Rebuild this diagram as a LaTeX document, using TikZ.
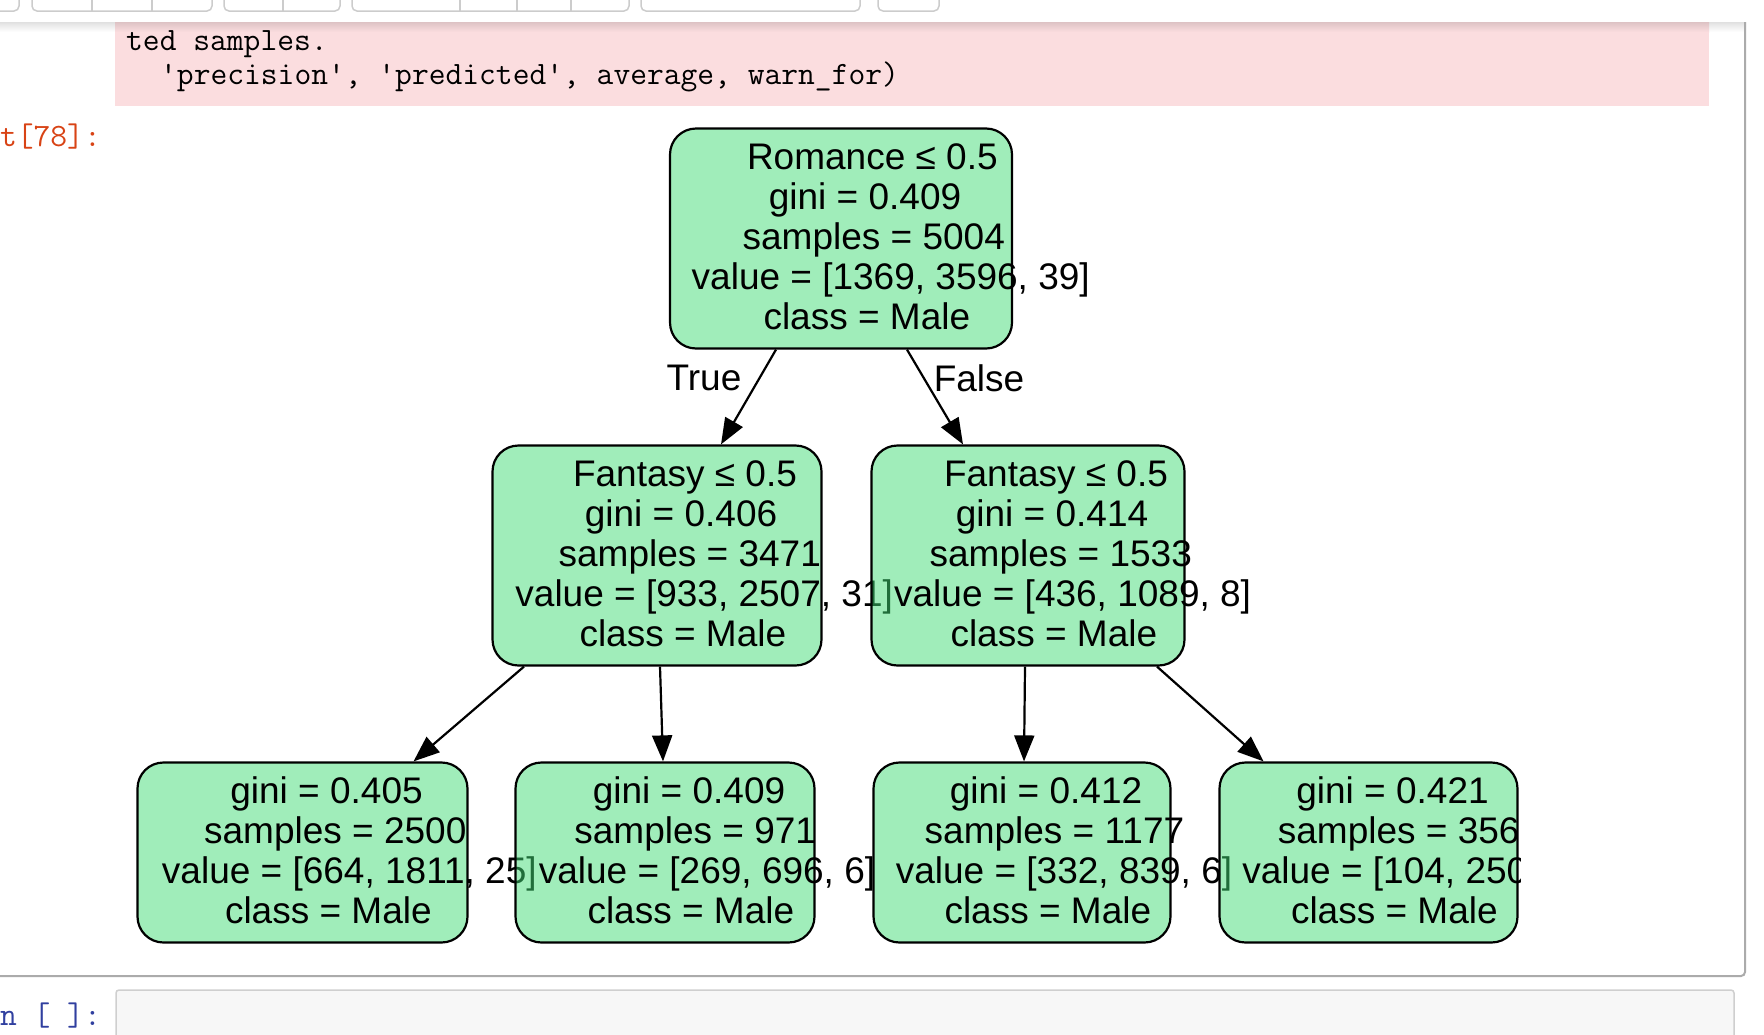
\documentclass[tikz,border=0pt]{standalone}
\usepackage{fontspec}
\newfontfamily\treefont{Liberation Sans}
\usepackage{tikz}
\usetikzlibrary{arrows.meta}
\definecolor{treegreen}{HTML}{41DB75}
\definecolor{errpink}{HTML}{FBDDDF}
\definecolor{outred}{HTML}{D84315}
\definecolor{inblue}{HTML}{303F9F}
\definecolor{cellgray}{HTML}{F7F7F7}
\definecolor{cellborder}{HTML}{CFCFCF}
\definecolor{framegray}{HTML}{ABABAB}
\newcommand{\sq}{\textquotesingle}
% graphviz-like line placement: every line starts a quarter of its width early
\newsavebox{\gvbox}
\newcommand{\gvline}[1]{\sbox{\gvbox}{#1}\hspace*{0.25\wd\gvbox}\usebox{\gvbox}}
\tikzset{
	treebox/.style={draw=black, line width=2.2pt, fill=treegreen, fill opacity=0.5,
			rounded corners=26pt, inner sep=0pt, minimum height=220pt}
}
\tikzset{
	leafbox/.style={treebox, minimum height=180pt}
}
\tikzset{
	treetext/.style={font=\treefont\fontsize{37}{40}\selectfont, align=center, inner sep=0pt}
}
\tikzset{
	treeedge/.style={line width=2.2pt, -{Triangle[length=26pt, width=20pt]}}
}
\tikzset{
	monotext/.style={font=\ttfamily\fontsize{32.6}{33}\selectfont, inner sep=0pt}
}
\tikzset{
	toolbtn/.style={draw=gray!40, line width=1.5pt, rounded corners=5pt}
}

\begin{document}
\begin{tikzpicture}[x=1pt, y=-1pt]

			\useasboundingbox (0,0) rectangle (1764,1034);
			\clip (0,0) rectangle (1764,1034);

			% notebook toolbar
			\begin{scope}
				\draw[toolbtn] (-20,-10) rectangle (19,11);
				\draw[toolbtn] (32,-10) rectangle (212,11);
				\draw[toolbtn] (92,-10) -- (92,11);
				\draw[toolbtn] (152,-10) -- (152,11);
				\draw[toolbtn] (224,-10) rectangle (340,11);
				\draw[toolbtn] (283,-10) -- (283,11);
				\draw[toolbtn] (352,-10) rectangle (629,11);
				\draw[toolbtn] (460,-10) -- (460,11);
				\draw[toolbtn] (517,-10) -- (517,11);
				\draw[toolbtn] (571,-10) -- (571,11);
				\draw[toolbtn] (641,-10) rectangle (860,11);
				\draw[toolbtn] (878,-10) rectangle (939,11);
			\end{scope}

			% warning output
			\begin{scope}
				\shade[top color=black!12, bottom color=white] (0,22) rectangle (1746,32);
				\fill[errpink] (115,22) rectangle (1709,106);
				\shade[top color=errpink!88!black, bottom color=errpink] (115,22) rectangle (1709,32);

				\node[monotext, anchor=west] (errline1) at (126,44) {ted samples.};
				\node[monotext, anchor=west] (errline2) at (160,77)
				{\sq precision\sq, \sq predicted\sq, average, warn\_for)};

				\node[monotext, anchor=east, text=outred] (outprompt) at (101,137) {t[78]:};
				\draw[framegray, line width=2pt, rounded corners=4pt] (-10,976) -- (1745,976) -- (1745,22);
			\end{scope}

			% next input cell
			\begin{scope}
				\draw[cellborder, fill=cellgray, line width=1.5pt, rounded corners=3pt] (116,990) rectangle (1734,1070);
				\node[monotext, anchor=east, text=inblue] (inprompt) at (101,1016) {n [ ]:};
			\end{scope}

			% tree nodes
			\node[treebox, minimum width=342pt] (root) at (841,238.5) {};
			\node[treetext] (root-txt) at ([yshift=2pt]root.center)
			{\gvline{Romance ≤ 0.5}\\\gvline{gini = 0.409}\\\gvline{samples = 5004}\\
				\gvline{value = [1369, 3596, 39]}\\\gvline{class = Male}};

			\node[treebox, minimum width=329pt] (fantL) at (657,555.5) {};
			\node[treetext] (fantL-txt) at ([yshift=2pt]fantL.center)
			{\gvline{Fantasy ≤ 0.5}\\\gvline{gini = 0.406}\\\gvline{samples = 3471}\\
				\gvline{value = [933, 2507, 31]}\\\gvline{class = Male}};

			\node[leafbox, minimum width=330pt] (leafA) at (302.5,852.5) {};
			\node[treetext] (leafA-txt) at ([yshift=2pt]leafA.center)
			{\gvline{gini = 0.405}\\\gvline{samples = 2500}\\
				\gvline{value = [664, 1811, 25]}\\\gvline{class = Male}};

			\node[leafbox, minimum width=299pt] (leafB) at (665,852.5) {};
			\node[treetext] (leafB-txt) at ([yshift=2pt]leafB.center)
			{\gvline{gini = 0.409}\\\gvline{samples = 971}\\
				\gvline{value = [269, 696, 6]}\\\gvline{class = Male}};

			\node[treebox, minimum width=313pt] (fantR) at (1028,555.5) {};
			\node[treetext] (fantR-txt) at ([yshift=2pt]fantR.center)
			{\gvline{Fantasy ≤ 0.5}\\\gvline{gini = 0.414}\\\gvline{samples = 1533}\\
				\gvline{value = [436, 1089, 8]}\\\gvline{class = Male}};

			\node[leafbox, minimum width=297pt] (leafC) at (1022,852.5) {};
			\node[treetext] (leafC-txt) at ([yshift=2pt]leafC.center)
			{\gvline{gini = 0.412}\\\gvline{samples = 1177}\\
				\gvline{value = [332, 839, 6]}\\\gvline{class = Male}};

			\begin{scope}
				\clip (0,0) rectangle (1520,1034);
				\node[leafbox, minimum width=298pt] (leafD) at (1368.5,852.5) {};
				\node[treetext] (leafD-txt) at ([yshift=2pt]leafD.center)
				{\gvline{gini = 0.421}\\\gvline{samples = 356}\\
					\gvline{value = [104, 250, 2]}\\\gvline{class = Male}};
			\end{scope}

			% edges
			\draw[treeedge] ([xshift=-65pt]root.south) -- ([xshift=64pt]fantL.north);
			\draw[treeedge] ([xshift=66pt]root.south) -- ([xshift=-65pt]fantR.north);
			\draw[treeedge] ([xshift=-133pt]fantL.south) -- ([xshift=111pt]leafA.north);
			\draw[treeedge] ([xshift=3pt]fantL.south) -- ([xshift=-2pt]leafB.north);
			\draw[treeedge] ([xshift=-3pt]fantR.south) -- ([xshift=2pt]leafC.north);
			\draw[treeedge] ([xshift=129pt]fantR.south) -- ([xshift=-105pt]leafD.north);

			\node[treetext] (truelbl) at (704,378) {True};
			\node[treetext] (falselbl) at (979,378) {False};

		\end{tikzpicture}
\end{document}
